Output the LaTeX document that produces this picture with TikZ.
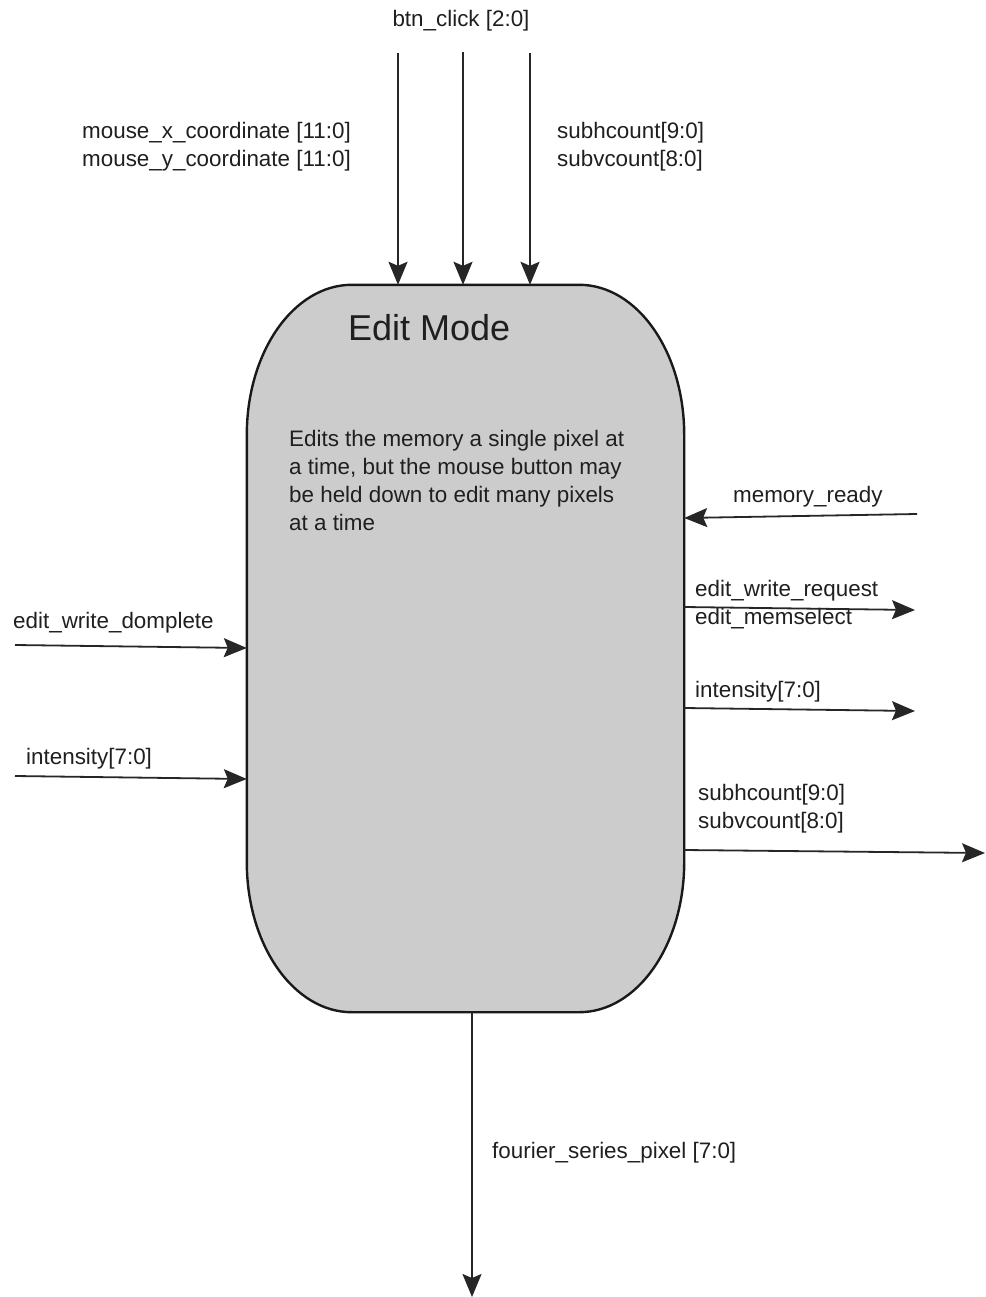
\documentclass[tikz,border=0pt]{standalone}
\usepackage{fontspec}
\setmainfont{Liberation Sans}
\usetikzlibrary{arrows.meta,calc}
\begin{document}
\begin{tikzpicture}[x=1pt,y=-1pt,
  lbl/.style={anchor=base west,inner sep=0pt,font=\fontsize{22.4}{28}\selectfont,text=black!88},
  arr/.style={draw=black!85,line width=1.8pt,-{Stealth[length=23pt,width=19pt,inset=4pt]}},
  boxline/.style={draw=black!90,line width=2.4pt,fill=black!20}]
\path[use as bounding box] (0,0) rectangle (985,1297);
% main block (invisible node carrying the anchors)
\node[inner sep=0pt,minimum width=437pt,minimum height=727pt] (em) at (465.5,648.5) {};
\path[boxline]
  ($(em.north west)+(105,0)$) -- ($(em.north east)+(-105,0)$)
  .. controls ($(em.north east)+(-47,0)$) and ($(em.north east)+(0,67)$) .. ($(em.north east)+(0,150)$)
  -- ($(em.south east)+(0,-150)$)
  .. controls ($(em.south east)+(0,-67)$) and ($(em.south east)+(-47,0)$) .. ($(em.south east)+(-105,0)$)
  -- ($(em.south west)+(105,0)$)
  .. controls ($(em.south west)+(47,0)$) and ($(em.south west)+(0,-67)$) .. ($(em.south west)+(0,-150)$)
  -- ($(em.north west)+(0,150)$)
  .. controls ($(em.north west)+(0,67)$) and ($(em.north west)+(47,0)$) .. ($(em.north west)+(105,0)$) -- cycle;
\node[anchor=base west,inner sep=0pt,font=\fontsize{36}{40}\selectfont,text=black!88] (title) at (348,340) {Edit Mode};
\node[lbl] (d1) at (289,446) {Edits the memory a single pixel at};
\node[lbl] (d2) at (289,474) {a time, but the mouse button may};
\node[lbl] (d3) at (289,502) {be held down to edit many pixels};
\node[lbl] (d4) at (289,530) {at a time};
% top inputs
\node[lbl,anchor=base] (btn) at (461,27) {btn\_click [2:0]};
\node[lbl] (mx) at (82,139) {mouse\_x\_coordinate [11:0]};
\node[lbl] (my) at (82,167) {mouse\_y\_coordinate [11:0]};
\node[lbl] (sh) at (557,139) {subhcount[9:0]};
\node[lbl] (sv) at (557,167) {subvcount[8:0]};
\coordinate (t1) at (398,53);
\coordinate (t2) at (463,52);
\coordinate (t3) at (530,53);
\draw[arr] (t1) -- (t1 |- em.north);
\draw[arr] (t2) -- (t2 |- em.north);
\draw[arr] (t3) -- (t3 |- em.north);
% right side
\node[lbl] (mr) at (733,502) {memory\_ready};
\coordinate (mrs) at (917,514);
\draw[arr] (mrs) -- ($(em.east |- mrs)+(0,4)$);
\node[lbl] (ewr) at (695,596) {edit\_write\_request};
\node[lbl] (ems) at (695,624) {edit\_memselect};
\coordinate (ewre) at (915,610);
\draw[arr] ($(em.east |- ewre)+(0,-3)$) -- (ewre);
\node[lbl] (intr) at (695,697) {intensity[7:0]};
\coordinate (intre) at (915,711);
\draw[arr] ($(em.east |- intre)+(0,-3)$) -- (intre);
\node[lbl] (shr) at (698,800) {subhcount[9:0]};
\node[lbl] (svr) at (698,828) {subvcount[8:0]};
\coordinate (shre) at (985,853);
\draw[arr] ($(em.east |- shre)+(0,-3)$) -- (shre);
% left side
\node[lbl] (ewd) at (13,628) {edit\_write\_domplete};
\coordinate (ewds) at (15,645);
\draw[arr] (ewds) -- ($(em.west |- ewds)+(0,3)$);
\node[lbl] (intl) at (26,764) {intensity[7:0]};
\coordinate (intls) at (15,776);
\draw[arr] (intls) -- ($(em.west |- intls)+(0,3)$);
% bottom output
\node[lbl] (fsp) at (492,1158) {fourier\_series\_pixel [7:0]};
\coordinate (fspe) at (472,1297);
\draw[arr] (fspe |- em.south) -- (fspe);
\end{tikzpicture}
\end{document}
